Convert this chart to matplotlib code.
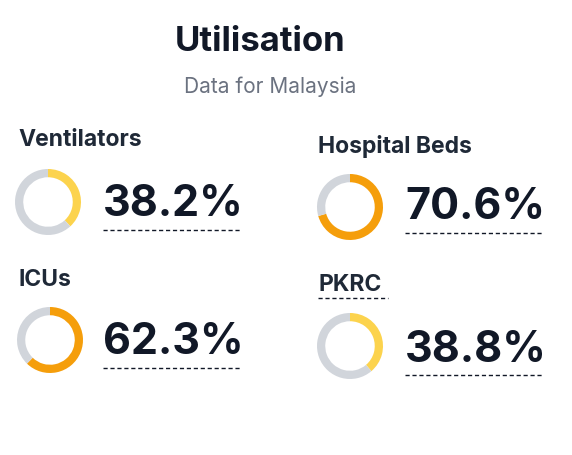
import matplotlib.pyplot as plt

plt.rcParams['font.family'] = ['Inter', 'DejaVu Sans']

labels = ["Ventilators", "Hospital Beds", "ICUs", "PKRC"]
values = [38.2, 70.6, 62.3, 38.8]
colors = ["#fcd34d", "#f59e0b", "#f59e0b", "#fcd34d"]
# pixel anchors: label (x, y), donut centre (x, y), percent y
label_pos = [(18, 140), (318, 146), (18, 280), (318, 285)]
donut_pos = [(48, 202), (350, 207), (50, 340), (350, 346)]
pct_pos = [(103, 205), (405, 208), (103, 343), (405, 350)]

W, H = 572, 455
fig = plt.figure(figsize=(W / 100, H / 100), dpi=100)

fig.text(260 / W, 1 - 42 / H, "Utilisation", ha='center', va='center',
         fontsize=25, fontweight='bold', color='#111827')
fig.text(270 / W, 1 - 87 / H, "Data for Malaysia", ha='center', va='center',
         fontsize=15, color='#6b7280')

r = 33
for lab, val, col, lp, dp, pp in zip(labels, values, colors, label_pos, donut_pos, pct_pos):
    fig.text(lp[0] / W, 1 - lp[1] / H, lab, ha='left', va='center',
             fontsize=16.5, fontweight='bold', color='#1f2937')
    ax = fig.add_axes([(dp[0] - r) / W, 1 - (dp[1] + r) / H, 2 * r / W, 2 * r / H])
    ax.pie([val, 100 - val], colors=[col, '#d1d5db'], startangle=90, counterclock=False,
           wedgeprops=dict(width=0.25), radius=1)
    ax.set_xlim(-1, 1)
    ax.set_ylim(-1, 1)
    ax.set_aspect('equal')
    fig.text(pp[0] / W, 1 - pp[1] / H, f"{val}%", ha='left', va='center',
             fontsize=31, fontweight='bold', color='#111827')
    uy = 1 - (pp[1] + 25) / H
    fig.add_artist(plt.Line2D([pp[0] / W, (pp[0] + 137) / W], [uy, uy],
                              color='#111827', lw=1, linestyle=(0, (3, 2))))

# dashed underline under PKRC label
uy = 1 - 298 / H
fig.add_artist(plt.Line2D([318 / W, 388 / W], [uy, uy], color='#111827', lw=1,
                          linestyle=(0, (3, 2))))

fig.savefig("out.png", dpi=100)
